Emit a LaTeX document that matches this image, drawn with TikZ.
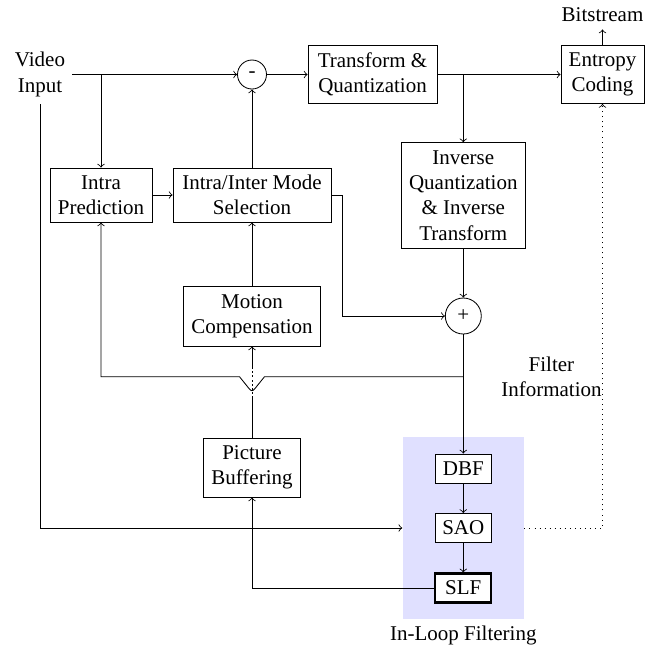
\documentclass[tikz,border=0pt]{standalone}
\usepackage{fontspec}
\setmainfont{Liberation Serif}
\usetikzlibrary{calc}
\def\PX{0.4762pt}
\begin{document}
\begin{tikzpicture}[x=\PX,y=-\PX,
  font=\fontsize{10}{12}\selectfont,
  blk/.style={draw, align=center, inner sep=2pt},
  fbox/.style={draw, fill=white, inner sep=1pt, minimum width=56*\PX, minimum height=29*\PX},
  sumnode/.style={draw, circle, inner sep=0pt},
  lbl/.style={align=center, inner sep=3.33pt}]
\useasboundingbox (0,0) rectangle (665,651);
% shaded in-loop filtering region
\node[fill=blue!12, inner sep=0pt, minimum width=121.3*\PX, minimum height=182.3*\PX] (ilf) at (463.35,527.85) {};
\node[lbl] (ilflab) at (463.3,635) {In-Loop Filtering};
% labels
\node[lbl] (vin) at (40,74.5) {Video\\Input};
\node[lbl] (bits) at (602.5,15) {Bitstream};
\node[align=center, anchor=east, inner sep=0pt] (finfo) at (602,377) {Filter\\Information};
% blocks
\node[sumnode, minimum size=29*\PX] (minus) at (252,74.5) {-};
\node[blk, minimum width=129*\PX, minimum height=58*\PX] (tq) at (372.5,74.5) {Transform \&\\Quantization};
\node[blk, minimum width=83*\PX, minimum height=58*\PX] (ec) at (602.5,74.5) {Entropy\\Coding};
\node[blk, minimum width=102*\PX, minimum height=54*\PX] (ip) at (101,195) {Intra\\Prediction};
\node[blk, minimum width=158*\PX, minimum height=54*\PX] (ms) at (252,195) {Intra/Inter Mode\\Selection};
\node[blk, minimum width=124*\PX, minimum height=105.6*\PX] (iq) at (463.3,195.5) {Inverse\\Quantization\\\& Inverse\\Transform};
\node[blk, minimum width=137.4*\PX, minimum height=59.3*\PX] (mc) at (252,316.3) {Motion\\Compensation};
\node[sumnode, minimum size=36*\PX] (plus) at (463.3,316) {+};
\node[blk, minimum width=96.6*\PX, minimum height=59*\PX] (pb) at (252,467.5) {Picture\\Buffering};
\node[fbox] (dbf) at (463.3,468.5) {DBF};
\node[fbox] (sao) at (463.3,528) {SAO};
\node[fbox, line width=1pt] (slf) at (463.3,588) {SLF};
% helper coordinates
\coordinate (hl) at (0,376.7);
\coordinate (msr) at (342.5,0);
% connectors
\draw[->] (vin.east) -- (minus.west);
\draw[->] (ip.north |- vin.east) -- (ip.north);
\draw[->] (vin.south) -- (vin.south |- sao) -- (ilf.west |- sao);
\draw[->] (minus.east) -- (tq.west);
\draw[->] (tq.east) -- (ec.west);
\draw[->] (tq.east -| iq.north) -- (iq.north);
\draw[->] (ec.north) -- (bits.south);
\draw[->] (ip.east) -- (ms.west);
\draw[->] (ms.north) -- (minus.south);
\draw[->] (mc.north) -- (ms.south);
\draw[->] (ms.east) -| (msr |- plus.west) -- (plus.west);
\draw[->] (iq.south) -- (plus.north);
\draw[->] (plus.south) -- (dbf.north);
\draw[->] (dbf.south) -- (sao.north);
\draw[->] (sao.south) -- (slf.north);
\draw[->] (slf.west) -| (pb.south);
\draw[->] (pb.north) -- (mc.south);
\draw[white, line width=0.6pt, dash pattern=on 1pt off 1pt] (252,369) -- (252,398);
\draw[->] (plus.south |- hl) -- (264.5,376.7) -- (255,388.5) .. controls (252,391.5) .. (249,388.5) -- (239.5,376.7) -- (ip.south |- hl) -- (ip.south);
\draw[->, dotted] (ilf.east |- sao) -- (ec.south |- sao) -- (ec.south);
\end{tikzpicture}
\end{document}
